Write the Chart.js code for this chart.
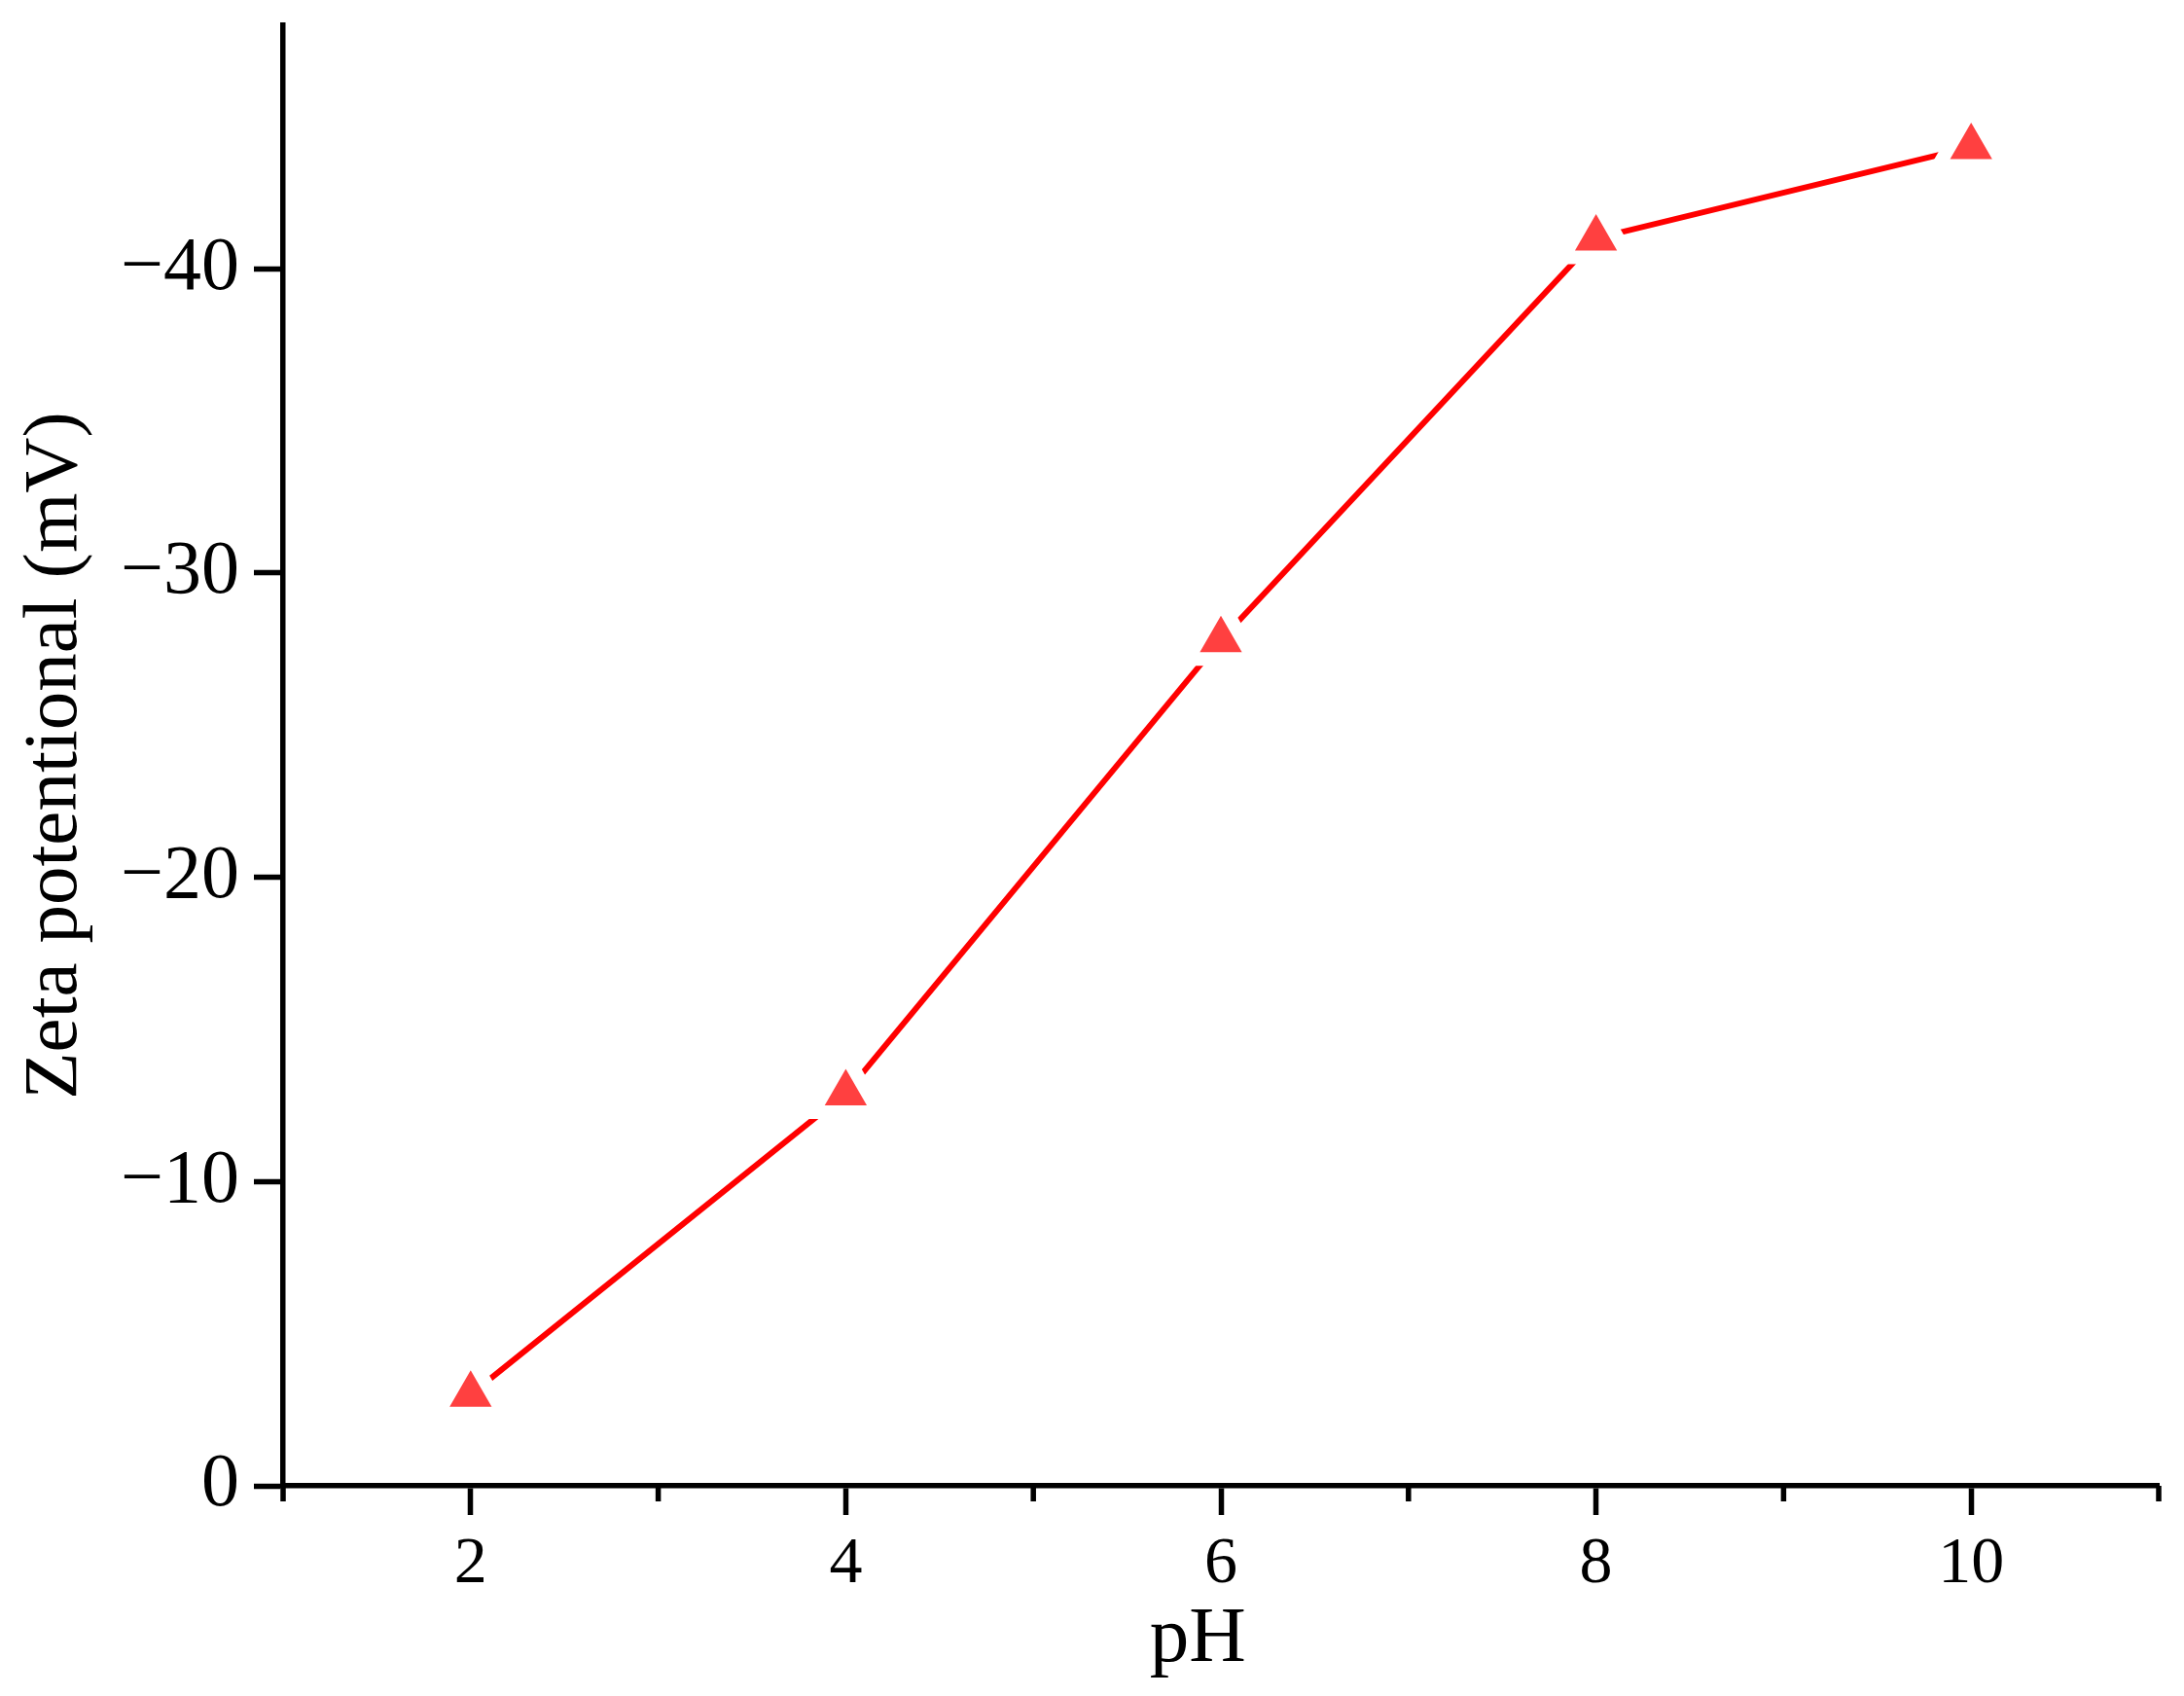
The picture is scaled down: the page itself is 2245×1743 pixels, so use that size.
<!DOCTYPE html>
<html>
<head>
<meta charset="utf-8">
<script src="https://cdn.jsdelivr.net/npm/chart.js@4.4.1/dist/chart.umd.min.js"></script>
<style>
  body { margin: 0; background: #fff; }
  #wrap { width: 2245px; height: 1743px; position: relative; }
</style>
</head>
<body>
<div id="wrap"><canvas id="zeta"></canvas></div>
<script>
const phValues = [2, 4, 6, 8, 10];
const zetaValues = [-3.0, -12.9, -27.8, -41.0, -44.0];
const xTicks = [1, 2, 3, 4, 5, 6, 7, 8, 9, 10, 11];
const xLabels = [2, 4, 6, 8, 10];
const yTicks = [0, -10, -20, -30, -40];

const serif = 'Liberation Serif';
const axisWidth = 5.5;

const minorTicks = {
    id: 'minorTicks',
    afterDraw(chart) {
        const {ctx, chartArea: {bottom}, scales: {x}} = chart;
        ctx.save();
        ctx.strokeStyle = '#000';
        ctx.lineWidth = axisWidth;
        ctx.beginPath();
        xTicks.forEach(v => {
            if (xLabels.indexOf(v) === -1) {
                const px = x.getPixelForValue(v);
                ctx.moveTo(px, bottom);
                ctx.lineTo(px, bottom + 16);
            }
        });
        ctx.stroke();
        ctx.restore();
    }
};

const ctx = document.getElementById('zeta').getContext('2d');
const myChart = new Chart(ctx, {
    type: 'line',
    data: {
        datasets: [{
            label: 'Zeta',
            data: phValues.map((p, i) => ({x: p, y: zetaValues[i]})),
            borderColor: '#ff0000',
            borderWidth: 6,
            pointStyle: 'triangle',
            pointRadius: 39,
            pointBackgroundColor: 'rgb(255, 64, 64)',
            pointBorderColor: '#ffffff',
            pointBorderWidth: 14,
            tension: 0
        }]
    },
    options: {
        responsive: true,
        maintainAspectRatio: false,
        animation: false,
        events: [],
        layout: {
            autoPadding: false,
            padding: {top: 26, right: 26, left: 0, bottom: 0}
        },
        plugins: {
            legend: {display: false},
            tooltip: {enabled: false}
        },
        scales: {
            x: {
                type: 'linear',
                min: 1,
                max: 11,
                afterBuildTicks: scale => { scale.ticks = xTicks.map(v => ({value: v})); },
                afterFit: scale => {
                    scale.height = 216;
                    scale.paddingLeft = 0;
                    scale.paddingRight = 0;
                },
                ticks: {
                    autoSkip: false,
                    maxRotation: 0,
                    padding: 10,
                    color: '#000',
                    font: {family: serif, size: 68},
                    callback: v => xLabels.indexOf(v) !== -1 ? String(v) : ''
                },
                grid: {
                    drawOnChartArea: false,
                    tickLength: 30,
                    tickWidth: axisWidth,
                    tickColor: c => (c.tick && xLabels.indexOf(c.tick.value) !== -1) ? '#000' : 'rgba(0,0,0,0)'
                },
                border: {display: true, color: '#000', width: axisWidth},
                title: {
                    display: true,
                    // trailing en space nudges the title a little left like the original
                    text: 'pH\u2002\u200A',
                    color: '#000',
                    font: {family: serif, size: 81},
                    padding: {top: 0, bottom: 9}
                }
            },
            y: {
                type: 'linear',
                reverse: true,
                min: -48,
                max: 0,
                afterBuildTicks: scale => { scale.ticks = yTicks.map(v => ({value: v})); },
                afterFit: scale => {
                    scale.width = 291;
                    scale.paddingTop = 0;
                    scale.paddingBottom = 0;
                },
                ticks: {
                    padding: 15,
                    color: '#000',
                    font: {family: serif, size: 78},
                    callback: v => v === 0 ? '0' : '\u2212' + Math.abs(v)
                },
                grid: {
                    drawOnChartArea: false,
                    tickLength: 30,
                    tickWidth: axisWidth,
                    tickColor: '#000'
                },
                border: {display: true, color: '#000', width: axisWidth},
                title: {
                    display: true,
                    text: 'Zeta potentional (mV)',
                    color: '#000',
                    font: {family: serif, size: 79},
                    padding: {top: 10, bottom: 0}
                }
            }
        }
    },
    plugins: [minorTicks]
});
</script>
</body>
</html>
